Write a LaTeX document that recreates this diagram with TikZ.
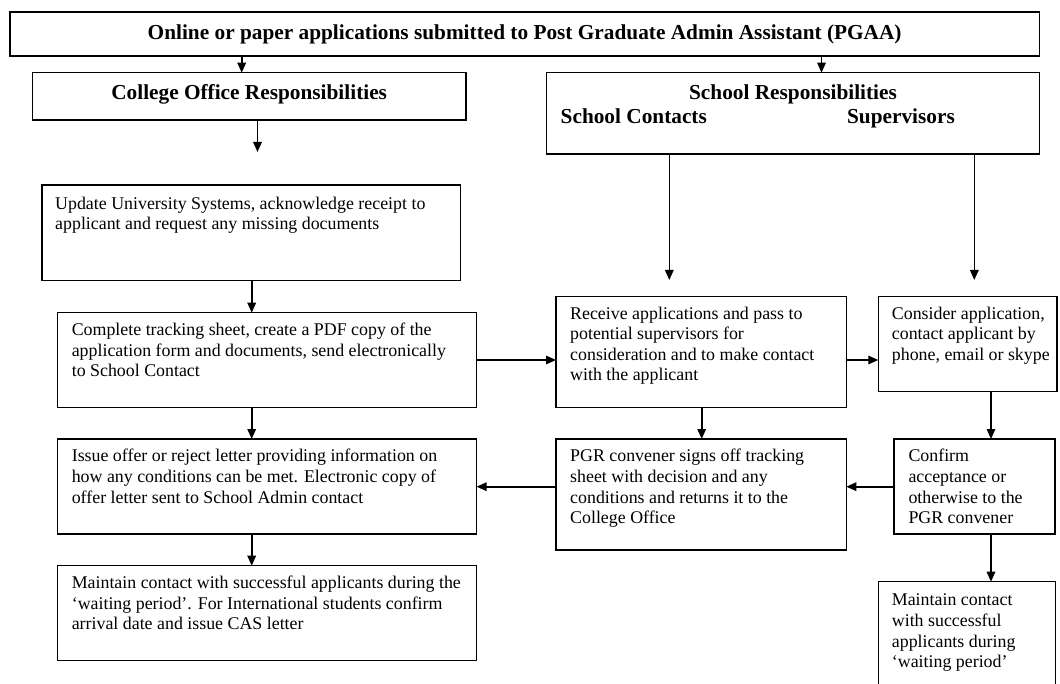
\documentclass[tikz,border=0pt]{standalone}
\usepackage{fontspec}
\setmainfont{Liberation Serif}
\usetikzlibrary{arrows.meta}
% strut that fixes the height of the first text line in a box
\newcommand\firstln{\rule{0pt}{13pt}}
\begin{document}
\begin{tikzpicture}[x=1pt,y=-1pt,
  frame/.style={draw, line width=1.3pt, rectangle, inner sep=0pt, outer sep=0pt, anchor=north west},
  body/.style={anchor=north west, inner sep=0pt, align=left, font=\fontsize{17.87}{20.55}\selectfont},
  head/.style={anchor=base, inner sep=0pt, font=\fontsize{21.3}{24}\selectfont\bfseries},
  flow/.style={line width=1.6pt, -{Triangle[length=10pt,width=8.5pt]}}]
\useasboundingbox (0,0) rectangle (1060,684);
\clip (0,0) rectangle (1060,684);

% boxes
\node[frame, minimum width=1029.3, minimum height=44]  (top)  at (10,12) {};
\node[frame, minimum width=433.7,  minimum height=47.3] (col)  at (32.3,72.7) {};
\node[frame, minimum width=492.6,  minimum height=81.3] (sch)  at (546.7,72.7) {};
\node[frame, minimum width=418.7,  minimum height=95.7] (upd)  at (42,185) {};
\node[frame, minimum width=418.8,  minimum height=94.6] (cmp)  at (57.8,312.7) {};
\node[frame, minimum width=290.3,  minimum height=110.6] (rcv) at (556,296.7) {};
\node[frame, minimum width=178.7,  minimum height=94.6] (cns)  at (878.3,296.7) {};
\node[frame, minimum width=418.8,  minimum height=95]   (iss)  at (57.8,439) {};
\node[frame, minimum width=290.3,  minimum height=111]  (pgr)  at (556,439) {};
\node[frame, minimum width=161,    minimum height=95]   (cnf)  at (894,439) {};
\node[frame, minimum width=418.8,  minimum height=95]   (mnt)  at (57.8,565.7) {};
\node[frame, minimum width=177,    minimum height=130]  (keep) at (878.3,581.7) {};

% headings
\node[head] (ttop) at (524.65,40) {Online or paper applications submitted to Post Graduate Admin Assistant (PGAA)};
\node[head] (tcol) at (249.15,100) {College Office Responsibilities};
\node[head] (tsch) at (793,99.5) {School Responsibilities};
\node[head, anchor=base west] (tcon) at (560.5,124) {School Contacts};
\node[head, anchor=base east] (tsup) at (955,124) {Supervisors};

% box texts
\node[body] (xupd) at (55,196) {\firstln Update University Systems, acknowledge receipt to\\applicant and request any missing documents};
\node[body] (xcmp) at (71.6,322.7) {\firstln Complete tracking sheet, create a PDF copy of the\\application form and documents, send electronically\\to School Contact};
\node[body] (xrcv) at (570,306) {\firstln Receive applications and pass to\\potential supervisors for\\consideration and to make contact\\with the applicant};
\node[body] (xcns) at (891.7,306) {\firstln Consider application,\\contact applicant by\\phone, email or skype};
\node[body] (xiss) at (71.6,448.7) {\firstln Issue offer or reject letter providing information on\\how any conditions can be met. Electronic copy of\\offer letter sent to School Admin contact};
\node[body] (xpgr) at (570,448.7) {\firstln PGR convener signs off tracking\\sheet with decision and any\\conditions and returns it to the\\College Office};
\node[body] (xcnf) at (908.3,448.7) {\firstln Confirm\\acceptance or\\otherwise to the\\PGR convener};
\node[body] (xmnt) at (71.6,575.3) {\firstln Maintain contact with successful applicants during the\\‘waiting period’. For International students confirm\\arrival date and issue CAS letter};
\node[body] (xkeep) at (891.7,592.7) {\firstln Maintain contact\\with successful\\applicants during\\‘waiting period’};

% connector columns and rows
\coordinate (c1) at (241.7,0);
\coordinate (c2) at (821.5,0);
\coordinate (c4) at (251.7,0);
\coordinate (c7) at (701.7,0);
\coordinate (c8) at (991,0);
\coordinate (r1) at (0,360);
\coordinate (r2) at (0,486.7);
\coordinate (colend) at (257.5,152);
\coordinate (conend) at (669.3,280);
\coordinate (supend) at (974.3,280);

% connectors
\draw[flow] (top.south -| c1) -- (col.north -| c1);
\draw[flow] (top.south -| c2) -- (sch.north -| c2);
\draw[flow] (col.south -| colend) -- (colend);
\draw[flow] (sch.south -| conend) -- (conend);
\draw[flow] (sch.south -| supend) -- (supend);
\draw[flow] (upd.south -| c4) -- (cmp.north -| c4);
\draw[flow] (cmp.east |- r1) -- (rcv.west |- r1);
\draw[flow] (rcv.east |- r1) -- (cns.west |- r1);
\draw[flow] (rcv.south -| c7) -- (pgr.north -| c7);
\draw[flow] (cns.south -| c8) -- (cnf.north -| c8);
\draw[flow] (cnf.west |- r2) -- (pgr.east |- r2);
\draw[flow] (pgr.west |- r2) -- (iss.east |- r2);
\draw[flow] (cmp.south -| c4) -- (iss.north -| c4);
\draw[flow] (iss.south -| c4) -- (mnt.north -| c4);
\draw[flow] (cnf.south -| c8) -- (keep.north -| c8);
\end{tikzpicture}
\end{document}
